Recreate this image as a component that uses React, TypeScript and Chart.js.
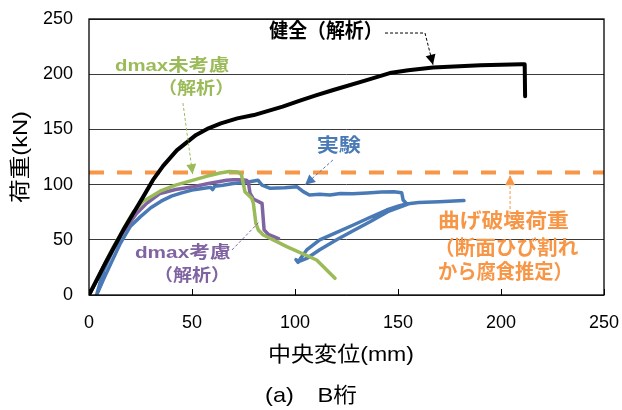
import React, { useEffect, useRef } from "react";
import { Chart, registerables } from "chart.js";

Chart.register(...registerables);

// ---- Data ----
const xTickValues = [0, 50, 100, 150, 200, 250];
const yTickValues = [0, 50, 100, 150, 200, 250];

// 健全（解析）
const healthyX = [0, 8, 16.7, 21.5, 26, 31, 36, 42.6, 52, 58, 64, 72, 80, 94, 102.4, 110.5, 118.6, 134.8, 146, 155, 167, 190, 210, 211.5, 211.7];
const healthyY = [0, 29, 59, 74, 88, 104, 117, 131, 145, 151, 155.5, 160, 163, 170.6, 176, 181, 185.7, 194.7, 201, 203.5, 206, 208, 209, 209, 180];

// dmax未考慮（解析）
const noDmaxX = [0, 5, 10, 15, 18.3, 21.5, 26.4, 34.5, 42, 50.6, 57, 63.6, 68, 72, 74, 75.7, 79, 79.8, 81, 82.2, 84.6, 96, 110.5, 119.4];
const noDmaxY = [0, 18.5, 37, 54, 65, 75, 85, 94, 99.5, 104, 107.5, 110.5, 111.8, 111.5, 109, 93.6, 87.6, 83, 65, 58.9, 54.3, 43.8, 31.7, 15.1];

// dmax考慮（解析）
const dmaxX = [0, 5, 10, 15, 20, 23.2, 28, 34.5, 42, 50.6, 58, 66.8, 70, 74, 76.5, 77.3, 78.2, 79.8, 84, 85, 87, 92];
const dmaxY = [0, 18, 36, 53, 66, 74, 83, 92, 95.5, 98, 101, 104, 104.5, 104.5, 104, 102.6, 92, 87, 83, 59, 55, 51];

// 実験
const expX = [0, 6, 12, 16, 12, 7, 3.7, 7, 11, 15, 20, 25, 30, 35, 40, 45, 50, 55, 59, 60, 61, 65, 70, 75, 78, 82, 84, 88, 95, 101, 104, 107, 112, 117, 122, 128, 135, 142, 148, 151.8, 152.5, 154.5, 145, 136.4, 128, 120.2, 112, 106, 102, 100.5, 101.5, 103, 105.7, 112, 120, 128.3, 136, 144.5, 150, 154, 160, 170, 182];
const expY = [0, 22, 44, 56, 42, 22, 0, 14, 30, 46, 62, 71, 79, 85, 89.5, 92.5, 95, 96.5, 97.5, 95.5, 98.5, 99.5, 101, 102, 102.6, 104, 99.6, 96.6, 97.2, 98, 93.6, 90.6, 91.2, 90.6, 92, 91.8, 92.4, 93.2, 93.6, 92.6, 86, 82, 75.5, 66.4, 58, 50, 41, 33.5, 30.5, 32, 29.5, 34, 40.8, 50, 56.5, 63.4, 70, 77, 80.5, 82.5, 83.8, 84.5, 85.5];

// 曲げ破壊荷重
const flexuralLoad = 111;

const BLACK = "#000000";
const GREEN = "#9bbb59";
const PURPLE = "#8064a2";
const BLUE = "#4a7ab5";
const ORANGE = "#f79646";

const SANS = '"Liberation Sans", "Noto Sans CJK JP", sans-serif';

function pts(xs: number[], ys: number[]) {
  return xs.map((x, i) => ({ x, y: ys[i] }));
}

type Seg = { pts: [number, number][]; color: string; arrow: boolean };
type Label = { text: string; x: number; y: number; w: number; size: number; color: string };

const labels: Label[] = [
  { text: "健全（解析）", x: 87.5, y: 237.5, w: 55, size: 20, color: BLACK },
  { text: "dmax未考慮", x: 12.6, y: 207.4, w: 55.5, size: 17, color: GREEN },
  { text: "（解析）", x: 33.5, y: 186.6, w: 37, size: 17, color: GREEN },
  { text: "実験", x: 110.5, y: 134, w: 21.5, size: 19, color: BLUE },
  { text: "dmax考慮", x: 22.3, y: 37.6, w: 46.5, size: 17, color: PURPLE },
  { text: "（解析）", x: 31.5, y: 17.2, w: 37, size: 17, color: PURPLE },
  { text: "曲げ破壊荷重", x: 169.4, y: 66.1, w: 63.5, size: 20, color: ORANGE },
  { text: "（断面ひび割れ", x: 167.5, y: 40.8, w: 70, size: 20, color: ORANGE },
  { text: "から腐食推定）", x: 169.4, y: 19.5, w: 65.5, size: 20, color: ORANGE },
];

const connectors: Seg[] = [
  { pts: [[143.7, 237.3], [163.1, 237.3], [167, 208.6]], color: BLACK, arrow: true },
  { pts: [[45.6, 173.9], [50.3, 109.5]], color: GREEN, arrow: true },
  { pts: [[118.4, 122.3], [104.9, 99.8]], color: BLUE, arrow: true },
  { pts: [[69.4, 40.8], [82.5, 66]], color: PURPLE, arrow: false },
  { pts: [[204.4, 68.8], [204.4, 108.5]], color: ORANGE, arrow: true },
];

function fitText(ctx: CanvasRenderingContext2D, text: string, left: number, cy: number, width: number, font: string, color: string, align: "left" | "center" = "left") {
  ctx.save();
  ctx.font = font;
  const w = ctx.measureText(text).width;
  const s = width / w;
  ctx.translate(align === "left" ? left : left - width / 2, cy);
  ctx.scale(s, 1);
  ctx.fillStyle = color;
  ctx.textAlign = "left";
  ctx.textBaseline = "middle";
  ctx.fillText(text, 0, 0);
  ctx.restore();
}

const decorPlugin = {
  id: "decor",
  afterDatasetsDraw(chart: any) {
    const { ctx, chartArea: a, scales } = chart;
    const xs = scales.x;
    const ys = scales.y;
    ctx.save();
    // frame
    ctx.strokeStyle = "#000";
    ctx.lineWidth = 1.3;
    ctx.strokeRect(a.left, a.top, a.right - a.left, a.bottom - a.top);
    // inward ticks on x axis
    ctx.lineWidth = 1;
    for (const v of xTickValues) {
      const px = Math.round(xs.getPixelForValue(v)) + 0.5;
      ctx.beginPath();
      ctx.moveTo(px, a.bottom);
      ctx.lineTo(px, a.bottom - 6);
      ctx.stroke();
    }
    // connectors
    for (const c of connectors) {
      const p = c.pts.map(([vx, vy]) => [xs.getPixelForValue(vx), ys.getPixelForValue(vy)]);
      ctx.strokeStyle = c.color;
      ctx.lineWidth = 1;
      ctx.setLineDash([3, 2]);
      ctx.beginPath();
      ctx.moveTo(p[0][0], p[0][1]);
      for (let i = 1; i < p.length; i++) ctx.lineTo(p[i][0], p[i][1]);
      ctx.stroke();
      ctx.setLineDash([]);
      if (c.arrow) {
        const [x1, y1] = p[p.length - 2];
        const [x2, y2] = p[p.length - 1];
        const ang = Math.atan2(y2 - y1, x2 - x1);
        const L = 10, W = 5;
        ctx.fillStyle = c.color;
        ctx.beginPath();
        ctx.moveTo(x2, y2);
        ctx.lineTo(x2 - L * Math.cos(ang) + W * Math.sin(ang), y2 - L * Math.sin(ang) - W * Math.cos(ang));
        ctx.lineTo(x2 - L * Math.cos(ang) - W * Math.sin(ang), y2 - L * Math.sin(ang) + W * Math.cos(ang));
        ctx.closePath();
        ctx.fill();
      }
    }
    // labels
    for (const l of labels) {
      const left = xs.getPixelForValue(l.x);
      const w = xs.getPixelForValue(l.x + l.w) - left;
      fitText(ctx, l.text, left, ys.getPixelForValue(l.y), w, `bold ${l.size}px ${SANS}`, l.color);
    }
    ctx.restore();
  },
  afterDraw(chart: any) {
    const { ctx, chartArea: a } = chart;
    ctx.save();
    // y axis title
    ctx.save();
    ctx.translate(21, (a.top + a.bottom) / 2);
    ctx.rotate(-Math.PI / 2);
    fitText(ctx, "荷重(kN)", 0, 0, 92, `21px ${SANS}`, "#000", "center");
    ctx.restore();
    // x axis title
    fitText(ctx, "中央変位(mm)", 341, 355, 146, `21px ${SANS}`, "#000", "center");
    // caption
    fitText(ctx, "(a)　B桁", 311, 396, 92, `21px ${SANS}`, "#000", "center");
    ctx.restore();
  },
};

const zeroPad = (s: any) => {
  s.paddingTop = 0;
  s.paddingBottom = 0;
  s.paddingLeft = 0;
  s.paddingRight = 0;
};

export default function App() {
  const ref = useRef<HTMLCanvasElement>(null);
  useEffect(() => {
    if (!ref.current) return;
    const line = (data: any, color: string, width: number, extra: any = {}) => ({
      type: "line",
      data,
      borderColor: color,
      backgroundColor: color,
      borderWidth: width,
      pointRadius: 0,
      tension: 0,
      fill: false,
      borderJoinStyle: "round",
      borderCapStyle: "round",
      ...extra,
    });
    const chart = new Chart(ref.current, {
      type: "line",
      data: {
        datasets: [
          line(pts(healthyX, healthyY), BLACK, 4),
          line(pts(noDmaxX, noDmaxY), GREEN, 3.5),
          line(pts(dmaxX, dmaxY), PURPLE, 3.5),
          line(pts(expX, expY), BLUE, 3.5),
          line([{ x: 0, y: flexuralLoad }, { x: 250, y: flexuralLoad }], ORANGE, 4, { borderDash: [15, 13], borderCapStyle: "butt" }),
        ] as any,
      },
      options: {
        responsive: false,
        animation: false,
        parsing: true,
        layout: { padding: { left: 0, right: 18, top: 19, bottom: 0 } },
        plugins: { legend: { display: false }, tooltip: { enabled: false }, title: { display: false } },
        scales: {
          x: {
            type: "linear",
            min: 0,
            max: 250,
            afterFit: (s: any) => { s.height = 115; zeroPad(s); },
            afterBuildTicks: (s: any) => { s.ticks = xTickValues.map((v) => ({ value: v })); },
            grid: { display: false, drawTicks: false },
            border: { display: false },
            ticks: { font: { family: SANS, size: 18 }, color: "#000", padding: 17, maxRotation: 0 },
          },
          y: {
            type: "linear",
            min: 0,
            max: 250,
            afterFit: (s: any) => { s.width = 89; zeroPad(s); },
            afterBuildTicks: (s: any) => { s.ticks = yTickValues.map((v) => ({ value: v })); },
            grid: { color: "#3a3a3a", lineWidth: 1, drawTicks: false },
            border: { display: false },
            ticks: { font: { family: SANS, size: 18 }, color: "#000", padding: 16 },
          },
        },
      } as any,
      plugins: [decorPlugin],
    });
    return () => chart.destroy();
  }, []);
  return (
    <div style={{ position: "fixed", left: 0, top: 0, width: 622, height: 410, background: "#fff" }}>
      <canvas ref={ref} width={622} height={410} style={{ display: "block" }} />
    </div>
  );
}
